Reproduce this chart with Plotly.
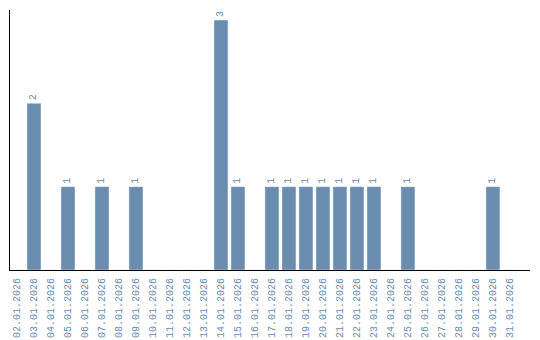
import plotly.graph_objects as go

dates = [f"{d:02d}.01.2026" for d in range(2, 32)]
counts = {"03.01.2026": 2, "05.01.2026": 1, "07.01.2026": 1, "09.01.2026": 1,
          "14.01.2026": 3, "15.01.2026": 1, "17.01.2026": 1, "18.01.2026": 1,
          "19.01.2026": 1, "20.01.2026": 1, "21.01.2026": 1, "22.01.2026": 1,
          "23.01.2026": 1, "25.01.2026": 1, "30.01.2026": 1}
values = [counts.get(d, 0) for d in dates]
labels = [str(v) if v else "" for v in values]

color = "#6a8caf"
font = dict(family="Liberation Mono", size=10, color=color)
fig = go.Figure(go.Bar(
    x=dates, y=values, text=labels, textposition="outside", textangle=-90,
    marker_color=color, cliponaxis=False, textfont=font,
))
fig.update_layout(
    width=540, height=340, margin=dict(l=10, r=10, t=10, b=70),
    plot_bgcolor="white", paper_bgcolor="white", bargap=0.176,
    showlegend=False,
)
fig.update_xaxes(type="category", tickangle=-90, showline=True, linecolor="black", linewidth=1,
                 ticks="", tickfont=font, showgrid=False, automargin=False,
                 range=[-0.41, 30.18], ticklabelstandoff=3)
fig.update_yaxes(range=[0, 3.12], showline=True, linecolor="black", linewidth=1,
                 showticklabels=False, ticks="", showgrid=False, zeroline=False,
                 automargin=False)
fig.write_html("out.html")
